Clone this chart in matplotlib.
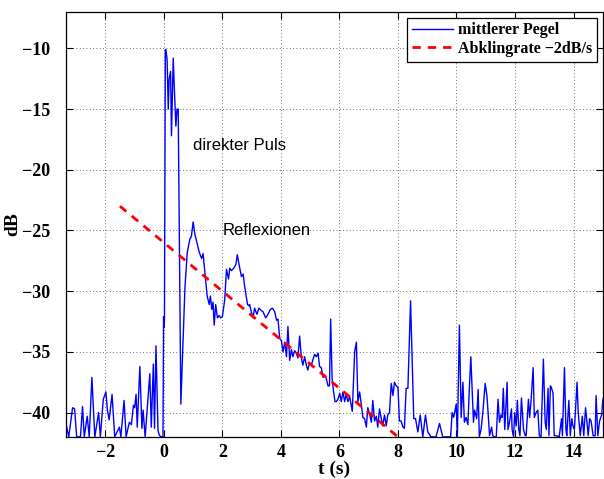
import numpy as np
import matplotlib
matplotlib.use("Agg")
from matplotlib import pyplot as plt

# mittlerer Pegel (t in s, Pegel in dB)
t_pegel = [
    -3.35, -3.33, -3.25, -3.12, -3.05, -2.98, -2.85, -2.78, -2.72, -2.62, -2.55,
    -2.46, -2.36, -2.23, -2.17, -2.07, -1.98, -1.93, -1.87, -1.77, -1.68, -1.52,
    -1.47, -1.36, -1.29, -1.18, -1.11, -1.04, -1.0, -0.95, -0.91, -0.82, -0.75,
    -0.71, -0.64, -0.48, -0.43, -0.36, -0.32, -0.27, -0.2, -0.15, -0.08, -0.03,
    -0.01, 0.0, 0.02, 0.05, 0.07, 0.11, 0.15, 0.18, 0.23, 0.26, 0.32, 0.36,
    0.41, 0.45, 0.49, 0.58, 0.72, 0.80, 0.89, 0.94, 1.0, 1.06, 1.11, 1.21,
    1.29, 1.34, 1.40, 1.48, 1.55, 1.59, 1.64, 1.68, 1.72, 1.77, 1.83, 1.89,
    1.94, 2.0, 2.08, 2.14, 2.21, 2.25, 2.31, 2.39, 2.46, 2.51, 2.57, 2.65,
    2.71, 2.76, 2.86, 2.91, 2.93, 2.99, 3.05, 3.10, 3.18, 3.25, 3.33, 3.39,
    3.48, 3.56, 3.64, 3.71, 3.79, 3.85, 3.90, 3.96, 4.02, 4.07, 4.13, 4.19,
    4.24, 4.30, 4.36, 4.41, 4.47, 4.53, 4.58, 4.64, 4.70, 4.75, 4.81, 4.87,
    4.92, 4.98, 5.04, 5.09, 5.15, 5.21, 5.27, 5.32, 5.38, 5.44, 5.49, 5.55,
    5.61, 5.66, 5.70, 5.75, 5.80, 5.85, 5.89, 5.95, 6.01, 6.06, 6.12, 6.18,
    6.23, 6.29, 6.35, 6.44, 6.52, 6.58, 6.63, 6.69, 6.75, 6.80, 6.86, 6.92,
    6.97, 7.03, 7.09, 7.14, 7.20, 7.26, 7.31, 7.37, 7.43, 7.48, 7.54, 7.60,
    7.65, 7.71, 7.77, 7.83, 7.88, 7.94, 8.0, 8.05, 8.11, 8.17, 8.22, 8.28,
    8.34, 8.43, 8.54, 8.60, 8.68, 8.76, 8.85, 8.94, 9.02, 9.13, 9.30, 9.42,
    9.53, 9.80, 9.85, 9.90, 9.94, 9.99, 10.03, 10.10, 10.16, 10.22, 10.27,
    10.33, 10.39, 10.44, 10.49, 10.53, 10.58, 10.62, 10.69, 10.74, 10.78,
    10.84, 10.90, 10.98, 11.04, 11.08, 11.13, 11.20, 11.24, 11.29, 11.36,
    11.42, 11.47, 11.52, 11.56, 11.60, 11.65, 11.69, 11.73, 11.76, 11.81,
    11.88, 11.90, 11.95, 11.99, 12.04, 12.08, 12.13, 12.17, 12.22, 12.29,
    12.35, 12.38, 12.46, 12.50, 12.55, 12.62, 12.66, 12.72, 12.78, 12.83,
    12.89, 12.97, 13.03, 13.07, 13.13, 13.16, 13.21, 13.25, 13.30, 13.34,
    13.40, 13.51, 13.59, 13.62, 13.69, 13.74, 13.77, 13.84, 13.89, 13.94,
    13.98, 14.03, 14.07, 14.12, 14.16, 14.23, 14.30, 14.35, 14.41, 14.46,
    14.50, 14.55, 14.60, 14.67, 14.74, 14.77, 14.83, 14.89, 14.96, 15.0, 15.05,
]
db_pegel = [
    -41.1, -41.1, -42.0, -39.6, -39.7, -42.0, -42.0, -39.5, -42.0, -40.3, -42.0,
    -37.1, -42.0, -40.0, -42.0, -38.9, -38.3, -39.8, -40.6, -38.5, -42.0, -41.2,
    -42.0, -39.0, -42.0, -40.8, -41.0, -39.4, -39.6, -38.5, -41.2, -36.2, -41.3,
    -39.8, -42.0, -36.8, -41.2, -36.0, -41.3, -34.5, -41.5, -41.9, -42.0, -42.0,
    -32.1, -33.0, -32.5, -10.1, -10.1, -10.9, -15.0, -12.5, -11.9, -17.2, -10.8, -13.4,
    -16.4, -15.0, -15.0, -39.3, -29.7, -26.8, -25.7, -25.5, -24.3, -25.3, -25.8, -26.8,
    -27.3, -26.9, -28.4, -30.4, -31.1, -30.4, -31.5, -30.9, -32.8, -31.1, -32.2, -32.0,
    -32.2, -32.1, -30.7, -28.2, -29.0, -28.1, -28.3, -28.1, -27.8, -27.0, -27.8, -28.8,
    -28.6, -29.6, -31.1, -31.2, -31.1, -31.7, -32.2, -31.4, -31.9, -31.4, -31.6, -31.7,
    -32.2, -31.9, -31.5, -31.4, -31.7, -32.4, -32.3, -33.9, -34.1, -35.0, -34.2, -35.4,
    -32.9, -35.7, -34.8, -35.4, -34.9, -35.1, -35.5, -33.7, -35.5, -36.1, -35.4, -36.1,
    -36.5, -35.9, -36.1, -35.7, -35.2, -35.4, -35.1, -36.2, -36.3, -37.1, -36.9, -37.2,
    -37.8, -37.8, -32.3, -37.2, -38.3, -39.1, -39.1, -38.9, -38.4, -39.1, -38.3, -39.1,
    -38.5, -39.1, -38.7, -39.9, -35.0, -34.2, -39.1, -38.3, -39.4, -40.4, -40.5, -41.2,
    -39.6, -40.1, -40.8, -39.0, -40.7, -40.3, -41.2, -39.7, -40.5, -41.1, -40.2, -41.1,
    -40.2, -40.0, -37.6, -38.6, -37.5, -37.8, -37.9, -40.7, -40.7, -41.2, -41.3, -38.0,
    -38.0, -30.8, -40.5, -40.5, -41.6, -40.2, -42.0, -40.2, -41.6, -42.0, -42.0, -40.9,
    -42.0, -42.0, -40.0, -40.4, -40.0, -39.3, -42.0, -32.8, -40.4, -37.5, -40.8,
    -40.4, -41.0, -38.0, -35.4, -37.8, -40.8, -39.8, -40.5, -38.1, -42.0,
    -41.4, -40.0, -37.6, -38.6, -40.0, -41.9, -41.2, -41.9, -42.0, -42.0,
    -38.9, -40.8, -40.2, -40.4, -38.0, -41.4, -39.4, -37.5, -41.4, -40.8,
    -39.7, -41.4, -42.0, -40.0, -41.1, -39.0, -41.4, -41.9, -38.8, -41.4,
    -41.9, -41.9, -38.9, -40.4, -39.0, -36.3, -40.4, -40.0, -39.8, -41.9,
    -42.0, -35.6, -40.8, -41.4, -38.0, -41.9, -37.8, -38.0, -38.4, -41.9,
    -41.9, -42.0, -40.5, -41.9, -36.3, -41.4, -41.9, -39.0, -41.9, -40.5,
    -41.1, -41.4, -39.7, -37.5, -40.0, -41.9, -40.3, -41.9, -39.6, -40.8,
    -41.9, -40.5, -40.7, -41.9, -41.9, -38.6, -41.9, -40.7, -40.2, -39.0, -38.5,
]

# Abklingrate -2 dB/s
t_abkling = [-1.5, 8.0]
db_abkling = [-23.0, -42.0]

xticks = [-2, 0, 2, 4, 6, 8, 10, 12, 14]
yticks = [-40, -35, -30, -25, -20, -15, -10]

serif = "Liberation Serif"

fig = plt.figure(figsize=(6.04, 4.79), dpi=100)
ax = fig.add_axes([0.109, 0.088, 0.889, 0.887])

ax.plot(t_pegel, db_pegel, color="#0000ff", lw=1.0, label="mittlerer Pegel")
ax.plot(t_abkling, db_abkling, color="#ff0000", lw=2.0, ls=(0, (3, 2.5)),
        label="Abklingrate \u22122dB/s")

ax.set_xlim(-3.35, 15)
ax.set_ylim(-42, -7)
ax.set_xticks(xticks)
ax.set_yticks(yticks)

ax.grid(True, color="0.25", ls=(0, (1, 3)), lw=0.6)
ax.tick_params(direction="in", top=True, right=True, length=5, width=0.8,
               labelsize=13)
ax.tick_params(axis="y", pad=11)
ax.tick_params(axis="x", pad=5)
for lab in ax.get_xticklabels() + ax.get_yticklabels():
    lab.set_fontfamily(serif)
    lab.set_fontweight("bold")
for s in ax.spines.values():
    s.set_linewidth(0.9)

ax.set_xlabel("t (s)", fontfamily=serif, fontweight="bold", fontsize=14, labelpad=0)
ax.set_ylabel("dB", fontfamily=serif, fontweight="bold", fontsize=14, labelpad=1)

ax.text(1.0, -18, "direkter Puls", fontfamily="Liberation Sans", fontsize=12,
        va="center")
ax.text(2.0, -25, "Reflexionen", fontfamily="Liberation Sans", fontsize=12,
        va="center")

leg = ax.legend(loc="upper right", prop={"family": serif, "weight": "bold", "size": 11.5},
                fancybox=False, framealpha=1, edgecolor="black",
                borderpad=0.3, labelspacing=0.15, handlelength=2.6,
                handletextpad=0.3, borderaxespad=0.35)
leg.get_frame().set_linewidth(0.9)

fig.savefig("out.png", dpi=100)
